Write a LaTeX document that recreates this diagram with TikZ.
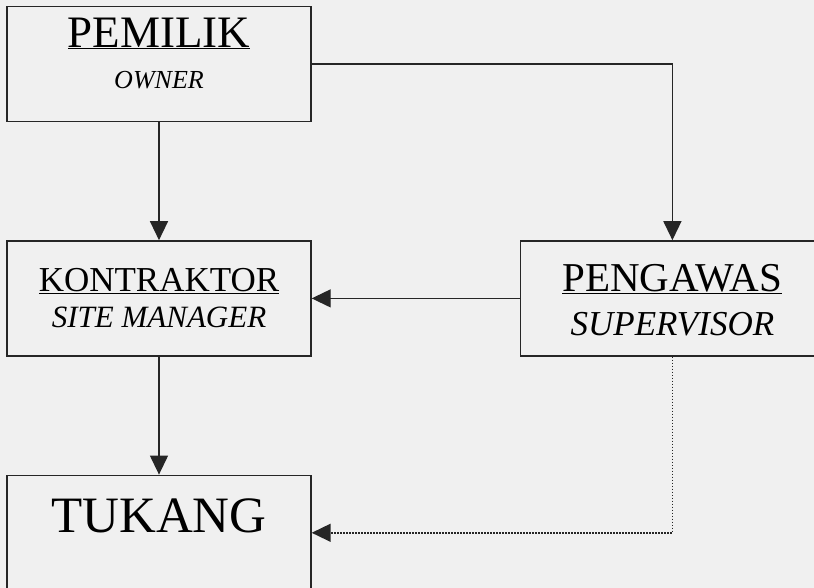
\documentclass[tikz,border=0pt]{standalone}
\usepackage{fontspec}
\setmainfont{Liberation Serif}
\usetikzlibrary{arrows.meta,positioning}

\tikzset{
  box/.style={draw, line width=1.4pt, minimum width=304pt, minimum height=115pt,
              inner sep=0pt, align=center},
}

\begin{document}
\begin{tikzpicture}[x=1pt, y=1pt, line width=1.3pt, draw=black!85,
                    >={Triangle[length=19pt,width=18pt]}, node distance=118pt]
  \useasboundingbox (0,0) rectangle (814,588);
  \fill[black!6] (0,0) rectangle (814,588);
  \clip (0,0) rectangle (814,588);

  \node[box] (pemilik) at (159,524)
    {\fontsize{45}{50}\selectfont\underline{PEMILIK}\\[21pt]
     \fontsize{26}{30}\selectfont\itshape OWNER\\[10pt]};
  \node[box] (kontraktor) [below=of pemilik]
    {\fontsize{35}{40}\selectfont\underline{KONTRAKTOR}\\[12pt]
     \fontsize{31}{34}\selectfont\itshape SITE MANAGER};
  \node[box] (pengawas)   [right=208pt of kontraktor]
    {\fontsize{41}{46}\selectfont\underline{PENGAWAS}\\[17pt]
     \fontsize{35}{38}\selectfont\itshape SUPERVISOR\\[-15pt]};
  \node[box] (tukang)     [below=of kontraktor]
    {\fontsize{51}{56}\selectfont TUKANG\\[22pt]};

  \draw[->] (pemilik) -- (kontraktor);
  \draw[->] (pemilik.east) -| (pengawas.north);
  \draw[->] (pengawas) -- (kontraktor);
  \draw[->] (kontraktor) -- (tukang);
  \draw[->, line width=1.5pt, dash pattern=on 1.5pt off 1.5pt]
    (pengawas.south) |- (tukang.east);
\end{tikzpicture}
\end{document}
